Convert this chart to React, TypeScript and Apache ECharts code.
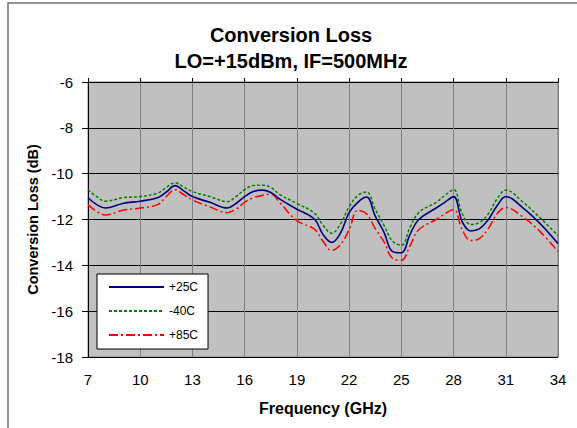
import React, { useEffect, useRef } from "react";
import * as echarts from "echarts";

const titleLines = ["Conversion Loss", "LO=+15dBm, IF=500MHz"];
const xAxisTitle = "Frequency (GHz)";
const yAxisTitle = "Conversion Loss (dB)";
const seriesNames = ["+25C", "-40C", "+85C"];

const freqGHz = [
  7, 7.5, 8, 9, 10, 11, 11.5, 12, 12.5, 13,
  14, 15, 15.5, 16, 16.5, 17, 17.5, 18, 19, 20,
  20.5, 21, 21.5, 22, 22.5, 23, 23.5, 24, 24.5, 25,
  25.5, 26, 27, 27.5, 28, 28.5, 29, 29.5, 30, 30.5,
  31, 32, 33, 34,
];

const loss25C = [
  -11.05, -11.35, -11.5, -11.3, -11.2, -11.05, -10.8, -10.52, -10.75, -11.0,
  -11.25, -11.5, -11.3, -11.0, -10.78, -10.72, -10.82, -11.1, -11.55, -11.98,
  -12.65, -13.0, -12.6, -11.7, -11.25, -11.02, -11.85, -12.55, -13.4, -13.45,
  -12.65, -12.0, -11.5, -11.25, -11.0, -12.1, -12.5, -12.4, -12.0, -11.4,
  -11.0, -11.5, -12.2, -13.05,
];

const lossM40C = [
  -10.7, -11.0, -11.2, -11.05, -11.0, -10.85, -10.6, -10.4, -10.58, -10.78,
  -11.0, -11.22, -11.0, -10.7, -10.52, -10.5, -10.6, -10.9, -11.3, -11.72,
  -12.25, -12.6, -12.2, -11.45, -10.95, -10.8, -11.55, -12.25, -12.95, -13.12,
  -12.35, -11.7, -11.25, -10.95, -10.7, -11.75, -12.22, -12.12, -11.75, -11.1,
  -10.72, -11.25, -11.95, -12.7,
];

const loss85C = [
  -11.35, -11.65, -11.8, -11.6, -11.5, -11.35, -11.0, -10.7, -10.92, -11.15,
  -11.45, -11.7, -11.55, -11.25, -11.05, -10.95, -10.9, -11.25, -12.05, -12.42,
  -12.95, -13.35, -13.1, -12.45, -11.6, -11.75, -12.4, -12.97, -13.7, -13.78,
  -13.15, -12.45, -12.0, -11.75, -11.56, -12.45, -12.92, -12.82, -12.4, -11.75,
  -11.48, -11.9, -12.55, -13.4,
];

const xStart = 7;
const xEnd = 34;
const xStep = 3;
const yMin = -18;
const yMax = -6;
const yStep = 2;

const FONT = "'Liberation Sans', Arial, sans-serif";

export default function App() {
  const ref = useRef<HTMLDivElement>(null);

  useEffect(() => {
    if (!ref.current) return;
    const chart = echarts.init(ref.current, null, { renderer: "svg" });
    const toPairs = (vals: number[]) =>
      freqGHz.map((f, i) => [f - xStart, vals[i]]);

    const axisBase = {
      type: "value" as const,
      min: 0,
      max: xEnd - xStart,
      interval: xStep,
    };

    chart.setOption({
      animation: false,
      backgroundColor: "#ffffff",
      textStyle: { fontFamily: FONT },
      graphic: [
        {
          type: "rect",
          shape: { x: 8, y: 3, width: 620, height: 500 },
          style: { fill: "none", stroke: "#707070", lineWidth: 1.5 },
          z: 100,
          silent: true,
        },
        {
          type: "text",
          x: 291,
          y: 35,
          style: {
            text: titleLines[0],
            font: `bold 20px ${FONT}`,
            fill: "#000",
            textAlign: "center",
            textVerticalAlign: "middle",
          },
        },
        {
          type: "text",
          x: 291,
          y: 61,
          style: {
            text: titleLines[1],
            font: `bold 20px ${FONT}`,
            fill: "#000",
            textAlign: "center",
            textVerticalAlign: "middle",
          },
        },
      ],
      grid: {
        left: 88,
        top: 82,
        right: 19,
        bottom: 71,
        show: true,
        backgroundColor: "#c0c0c0",
        borderColor: "#808080",
        borderWidth: 1,
      },
      legend: {
        orient: "vertical",
        left: 97,
        top: 274,
        backgroundColor: "#ffffff",
        borderColor: "#000000",
        borderWidth: 1,
        borderRadius: 0,
        padding: [7, 10, 8, 11],
        itemWidth: 55,
        itemHeight: 14,
        itemGap: 12,
        itemStyle: { opacity: 0 },
        textStyle: { fontSize: 12, color: "#000", fontFamily: FONT },
        data: seriesNames,
      },
      xAxis: [
        {
          ...axisBase,
          position: "bottom",
          axisLine: { show: false },
          axisTick: { show: false },
          axisLabel: {
            fontSize: 15,
            color: "#000",
            margin: 15,
            formatter: (v: number) => String(v + xStart),
          },
          splitLine: { show: true, lineStyle: { color: "#808080", width: 1 } },
          name: xAxisTitle,
          nameLocation: "middle",
          nameGap: 43,
          nameTextStyle: { fontSize: 16, fontWeight: "bold", color: "#000" },
        },
        {
          ...axisBase,
          position: "top",
          axisLine: { show: true, lineStyle: { color: "#000", width: 1 } },
          axisTick: { show: true, inside: false, length: 4, lineStyle: { color: "#000" } },
          axisLabel: { show: false },
          splitLine: { show: false },
        },
      ],
      yAxis: {
        type: "value",
        min: yMin,
        max: yMax,
        interval: yStep,
        axisLine: { show: true, onZero: false, lineStyle: { color: "#000", width: 1 } },
        axisTick: { show: true, inside: false, length: 6, lineStyle: { color: "#000" } },
        axisLabel: { fontSize: 15, color: "#000", margin: 15 },
        splitLine: { show: true, lineStyle: { color: "#000", width: 1 } },
        name: yAxisTitle,
        nameLocation: "middle",
        nameGap: 48,
        nameTextStyle: { fontSize: 14.5, fontWeight: "bold", color: "#000" },
      },
      series: [
        {
          name: seriesNames[0],
          type: "line",
          xAxisIndex: 0,
          data: toPairs(loss25C),
          smooth: 0.4,
          symbol: "none",
          lineStyle: { color: "#000080", width: 1.6, type: "solid" },
          itemStyle: { color: "#000080" },
          z: 4,
        },
        {
          name: seriesNames[1],
          type: "line",
          xAxisIndex: 0,
          data: toPairs(lossM40C),
          smooth: 0.4,
          symbol: "none",
          lineStyle: { color: "#008000", width: 1.5, type: [3, 2] },
          itemStyle: { color: "#008000" },
          z: 3,
        },
        {
          name: seriesNames[2],
          type: "line",
          xAxisIndex: 0,
          data: toPairs(loss85C),
          smooth: 0.4,
          symbol: "none",
          lineStyle: { color: "#ff0000", width: 1.5, type: [9, 3, 2, 3] },
          itemStyle: { color: "#ff0000" },
          z: 2,
        },
      ],
    });
    return () => chart.dispose();
  }, []);

  return (
    <div
      ref={ref}
      style={{ position: "fixed", left: 0, top: 0, width: 577, height: 428 }}
    />
  );
}
